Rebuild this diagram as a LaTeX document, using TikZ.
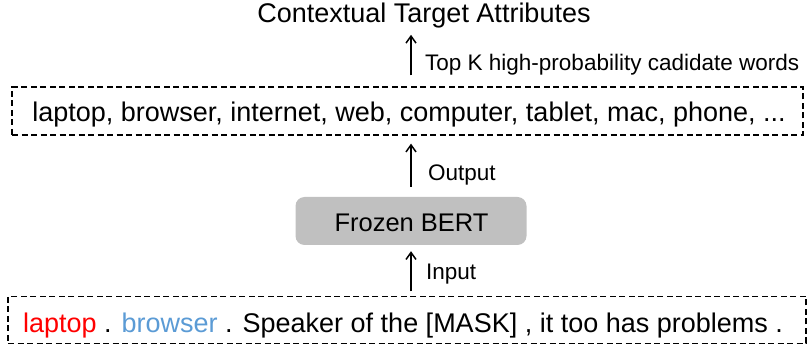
\documentclass[tikz,border=0pt]{standalone}
\usepackage{fontspec}
\setmainfont{Liberation Sans}
\usetikzlibrary{arrows.meta}
\definecolor{wordred}{RGB}{255,0,0}
\definecolor{wordblue}{RGB}{91,155,213}
\definecolor{bertgray}{RGB}{192,192,192}
\tikzset{
  bigtext/.style={font=\fontsize{27}{32}\selectfont, inner sep=0pt},
  labeltext/.style={font=\fontsize{22.5}{27}\selectfont, inner sep=0pt},
  dashbox/.style={draw=black, line width=1.3pt, dash pattern=on 6pt off 3.5pt, minimum height=48pt, inner sep=0pt},
  bertbox/.style={fill=bertgray, rounded corners=9pt, minimum width=231pt, minimum height=48pt, inner sep=0pt},
  arr/.style={line width=1.5pt, -{Straight Barb[length=7pt,width=10pt,line width=1.5pt]}}
}
\begin{document}
\begin{tikzpicture}[x=1pt,y=-1pt]
\useasboundingbox (0,0) rectangle (807,347);
\node[bigtext, anchor=base] (title) at (424,23) {Contextual Target Attributes};
\node[dashbox, minimum width=791pt] (cands) at (407.5,111) {};
\node[bigtext, anchor=base] (candtext) at (409,121.5) {laptop, browser, internet, web, computer, tablet, mac, phone, ...};
\node[bertbox] (bert) at (411,221) {};
\node[font=\fontsize{25.5}{30}\selectfont, inner sep=0pt, anchor=base] (berttext) at (411.5,232) {Frozen BERT};
\node[dashbox, minimum width=798pt, minimum height=47pt] (input) at (407,320) {};
\node[bigtext, anchor=base] (inputtext) at (403,333) {\textcolor{wordred}{laptop} . \textcolor{wordblue}{browser} . Speaker of the [MASK] , it too has problems .};
\draw[arr, shorten <=11pt, shorten >=6pt] (cands.north -| bert.center) -- (title.south -| bert.center);
\draw[arr, shorten <=10pt, shorten >=8pt] (bert.north) -- (cands.south -| bert.center);
\draw[arr, shorten <=4.5pt, shorten >=6pt] (input.north -| bert.center) -- (bert.south);
\node[labeltext, anchor=base west] (lk) at (425,71) {Top K high-probability cadidate words};
\node[labeltext, anchor=base west] (lo) at (428,181) {Output};
\node[labeltext, anchor=base west] (li) at (426,280) {Input};
\end{tikzpicture}
\end{document}
